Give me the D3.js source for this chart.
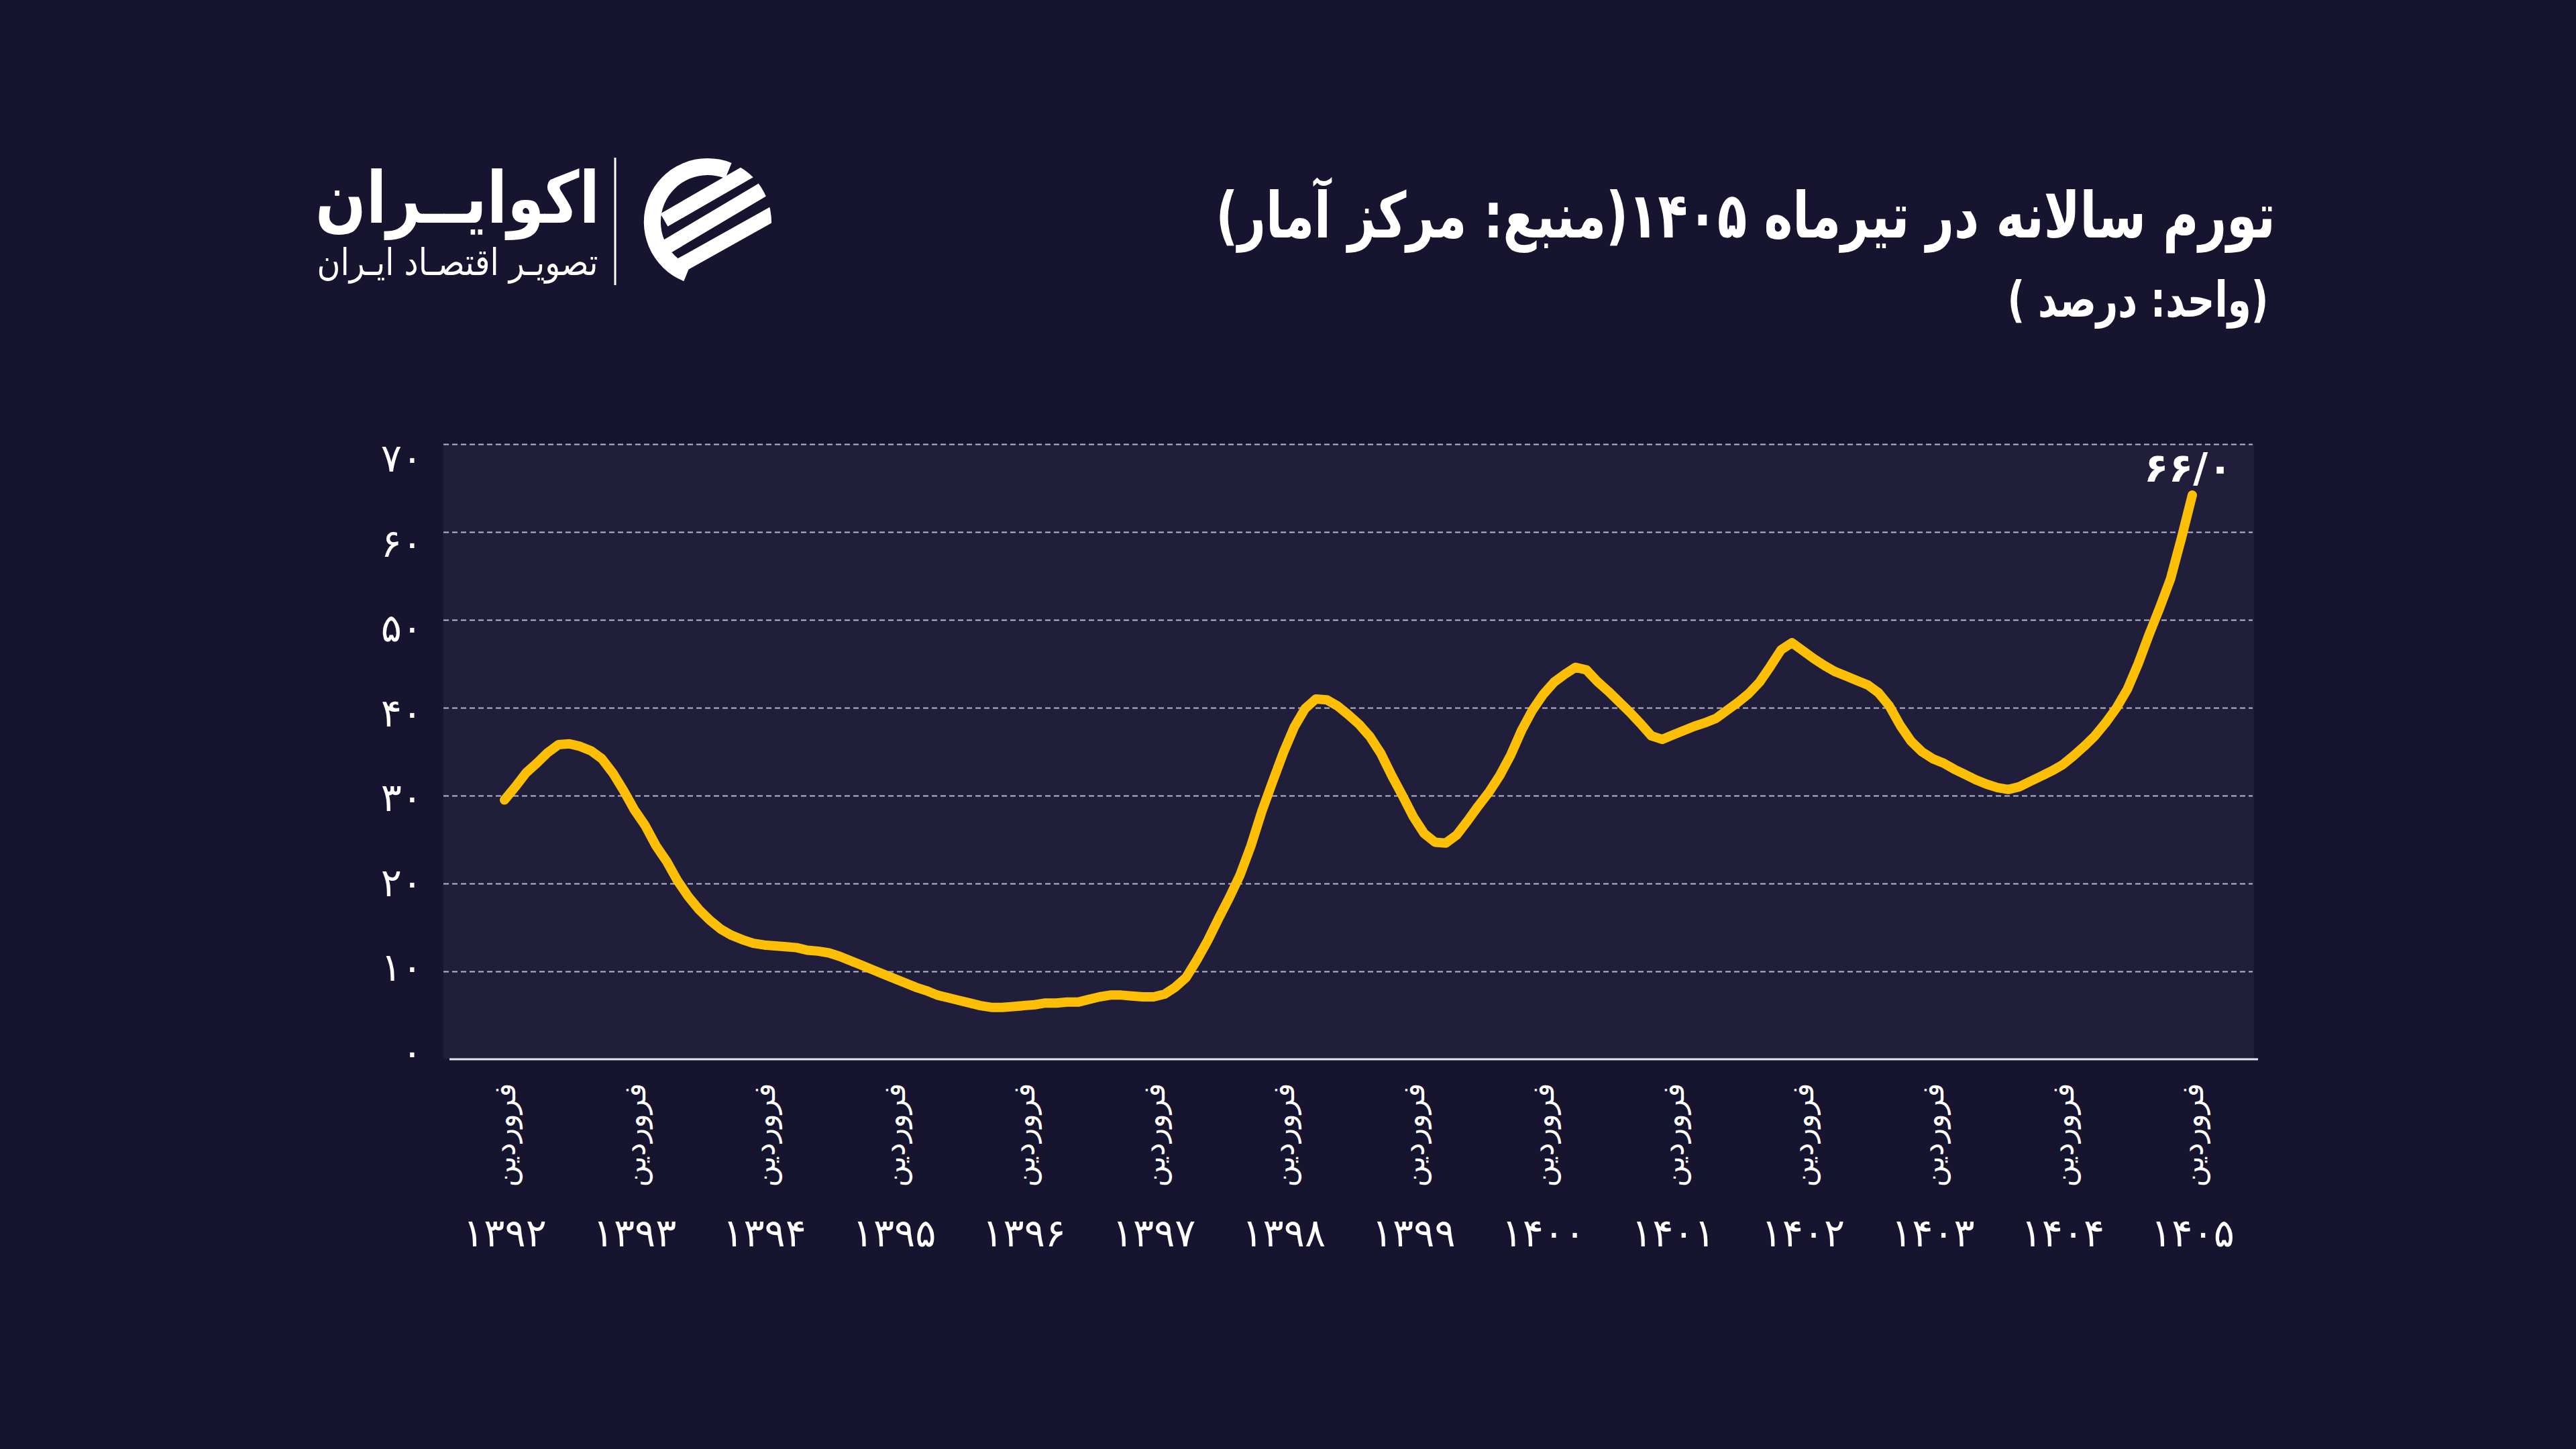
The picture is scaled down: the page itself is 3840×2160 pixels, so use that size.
<!DOCTYPE html>
<html>
<head>
<meta charset="utf-8">
<script src="https://cdn.jsdelivr.net/npm/d3@7"></script>
<style>
html, body { margin: 0; padding: 0; background: #16142f; }
svg { display: block; }
text { font-family: "DejaVu Sans", sans-serif; fill: #ffffff; }
</style>
</head>
<body>
<div id="chart"></div>
<script>
// tick labels
var years = ["۱۳۹۲", "۱۳۹۳", "۱۳۹۴", "۱۳۹۵", "۱۳۹۶", "۱۳۹۷", "۱۳۹۸",
             "۱۳۹۹", "۱۴۰۰", "۱۴۰۱", "۱۴۰۲", "۱۴۰۳", "۱۴۰۴", "۱۴۰۵"];
var monthName = "فروردین";
var yTicks = [0, 10, 20, 30, 40, 50, 60, 70];

// annual inflation, one value per month
var inflation = [
  29.5, 31.0, 32.6, 33.7, 34.9, 35.8, 35.9, 35.6, 35.1, 34.2, 32.6, 30.6,
  28.4, 26.6, 24.3, 22.5, 20.3, 18.5, 17.0, 15.8, 14.8, 14.1, 13.6, 13.2,
  13.0, 12.9, 12.8, 12.7, 12.4, 12.3, 12.1, 11.7, 11.2, 10.7, 10.2, 9.7,
  9.2, 8.7, 8.2, 7.8, 7.3, 7.0, 6.7, 6.4, 6.1, 5.9, 5.9, 6.0,
  6.1, 6.2, 6.4, 6.4, 6.5, 6.5, 6.8, 7.1, 7.3, 7.3, 7.2, 7.1,
  7.1, 7.4, 8.2, 9.3, 11.3, 13.5, 16.0, 18.4, 21.0, 24.3, 28.2, 31.6,
  34.9, 37.8, 39.9, 41.0, 40.9, 40.2, 39.2, 38.1, 36.7, 34.8, 32.3, 30.0,
  27.6, 25.7, 24.7, 24.6, 25.5, 27.1, 28.8, 30.4, 32.3, 34.6, 37.4, 39.7,
  41.5, 42.9, 43.8, 44.6, 44.3, 43.0, 41.9, 40.7, 39.5, 38.2, 36.8, 36.4,
  36.9, 37.4, 37.9, 38.3, 38.8, 39.7, 40.6, 41.6, 42.9, 44.7, 46.6, 47.4,
  46.5, 45.6, 44.8, 44.1, 43.6, 43.1, 42.6, 41.7, 40.2, 38.0, 36.2, 35.0,
  34.2, 33.7, 33.0, 32.4, 31.8, 31.3, 30.9, 30.7, 31.0, 31.6, 32.2, 32.8,
  33.5, 34.5, 35.6, 36.8, 38.3, 40.0, 42.1, 45.0, 48.3, 51.4, 54.7, 59.3,
  64.2
];
var lastLabel = "۶۶/۰";

var titleText = "تورم سالانه در تیرماه ۱۴۰۵(منبع: مرکز آمار)";
var unitText = "(واحد: درصد )";
var brandText = "اکوایــران";
var brandSub = "تصویـر اقتصـاد ایـران";

var W = 3840, H = 2160;
var plot = {left: 661, right: 3360, top: 662, bottom: 1579};

function fa(n) {
  return String(n).replace(/\d/g, function(d) { return "۰۱۲۳۴۵۶۷۸۹"[d]; });
}

// scale font so the text fills a given width, centred on cx
function fitText(sel, cx, width) {
  var w = sel.node().getComputedTextLength();
  var fs = parseFloat(sel.attr("font-size"));
  sel.attr("font-size", fs * width / w).attr("x", cx);
}

// stretch text vertically around its baseline (the original face is narrow and tall)
function stretchY(sel, k) {
  var b = +sel.attr("y");
  sel.attr("transform", "translate(0," + b + ") scale(1," + k + ") translate(0," + (-b) + ")");
}

var svg = d3.select("#chart").append("svg")
  .attr("width", W).attr("height", H);

svg.append("rect").attr("width", W).attr("height", H).attr("fill", "#16142f");

// plot background
svg.append("rect")
  .attr("x", plot.left).attr("y", plot.top)
  .attr("width", plot.right - plot.left)
  .attr("height", plot.bottom - plot.top)
  .attr("fill", "#201e3b");

var x = d3.scaleLinear()
  .domain([0, inflation.length - 1])
  .range([752, 3268]);

var y = d3.scaleLinear()
  .domain([0, 70])
  .range([plot.bottom, plot.top]);

// label positions on the y axis sit on a slightly tighter spacing
var yLab = d3.scaleLinear()
  .domain([0, 70])
  .range([1570, 684]);

// grid lines
svg.append("g")
  .attr("transform", "translate(" + plot.left + ",0)")
  .call(d3.axisLeft(y).tickValues(yTicks.slice(1)).tickSize(-(plot.right - plot.left - 2)).tickFormat(""))
  .call(function(g) { g.select(".domain").remove(); })
  .selectAll("line")
  .attr("stroke", "#b9b6cf")
  .attr("stroke-width", 2)
  .attr("stroke-dasharray", "8,5");

// y labels
svg.append("g")
  .attr("transform", "translate(630,0)")
  .call(d3.axisLeft(yLab).tickValues(yTicks).tickSize(0).tickPadding(0).tickFormat(fa))
  .call(function(g) { g.select(".domain").remove(); })
  .selectAll("text")
  .attr("font-size", 58)
  .attr("fill", "#ffffff")
  .style("font-family", "DejaVu Sans");

// x axis line
svg.append("line")
  .attr("x1", 670).attr("x2", 3366)
  .attr("y1", plot.bottom).attr("y2", plot.bottom)
  .attr("stroke", "#e6e6ee")
  .attr("stroke-width", 3);

// x ticks: month name rotated + year below
var tickIdx = years.map(function(d, i) { return i * 12; });
var xAxis = svg.append("g")
  .attr("transform", "translate(0," + plot.bottom + ")")
  .call(d3.axisBottom(x).tickValues(tickIdx).tickSize(0).tickFormat(""));
xAxis.select(".domain").remove();

var ticks = xAxis.selectAll(".tick");
ticks.append("text")
  .attr("class", "month")
  .attr("transform", "translate(0,113) rotate(-90)")
  .attr("text-anchor", "middle")
  .attr("dy", "0.35em")
  .attr("font-size", 40)
  .style("font-family", "DejaVu Sans")
  .attr("fill", "#ffffff")
  .text(monthName);

var m0 = xAxis.select(".month").node().getComputedTextLength();
xAxis.selectAll(".month").attr("font-size", 40 * 155 / m0);

ticks.append("text")
  .attr("y", 279)
  .attr("text-anchor", "middle")
  .attr("font-size", 58)
  .style("font-family", "DejaVu Sans")
  .attr("fill", "#ffffff")
  .text(function(d, i) { return years[i]; });

// inflation line
var line = d3.line()
  .x(function(d, i) { return x(i); })
  .y(function(d) { return y(d); });

svg.append("path")
  .datum(inflation)
  .attr("d", line)
  .attr("fill", "none")
  .attr("stroke", "#fcbf06")
  .attr("stroke-width", 14)
  .attr("stroke-linejoin", "round")
  .attr("stroke-linecap", "round");

// last value label
var last = inflation.length - 1;
svg.append("text")
  .attr("x", x(last) - 6)
  .attr("y", y(inflation[last]) - 20)
  .attr("text-anchor", "middle")
  .attr("font-size", 60)
  .attr("font-weight", "bold")
  .text(lastLabel);

// title + unit
var title = svg.append("text")
  .attr("direction", "rtl")
  .attr("text-anchor", "middle")
  .attr("y", 354)
  .attr("font-size", 90)
  .attr("font-weight", "bold")
  .text(titleText);
fitText(title, 2602, 1580);
stretchY(title, 1.3);

var unit = svg.append("text")
  .attr("direction", "rtl")
  .attr("text-anchor", "middle")
  .attr("y", 472)
  .attr("font-size", 60)
  .attr("font-weight", "bold")
  .text(unitText);
fitText(unit, 3187, 389);
stretchY(unit, 1.3);

// logo
var brand = svg.append("text")
  .attr("direction", "rtl")
  .attr("text-anchor", "middle")
  .attr("y", 332)
  .attr("font-size", 100)
  .attr("font-weight", "bold")
  .text(brandText);
fitText(brand, 682, 424);
stretchY(brand, 1.2);

var sub = svg.append("text")
  .attr("direction", "rtl")
  .attr("text-anchor", "middle")
  .attr("y", 410)
  .attr("font-size", 44)
  .text(brandSub);
fitText(sub, 682, 419);
stretchY(sub, 1.15);

svg.append("line")
  .attr("x1", 917).attr("x2", 917)
  .attr("y1", 235).attr("y2", 425)
  .attr("stroke", "#ffffff")
  .attr("stroke-width", 3);

var icon = svg.append("g").attr("transform", "translate(1055,331)");
svg.append("clipPath").attr("id", "iconClip")
  .append("circle").attr("cx", 1055).attr("cy", 331).attr("r", 95);

icon.append("path")
  .attr("d", d3.arc()({innerRadius: 70, outerRadius: 95,
    startAngle: 202 * Math.PI / 180, endAngle: 382 * Math.PI / 180}))
  .attr("fill", "#ffffff");

var stripes = svg.append("g").attr("clip-path", "url(#iconClip)")
  .append("g").attr("transform", "translate(1055,331)");
[[-65, -3, 100, -98], [-65, 39, 100, -59], [-93, 94, 100, -14]].forEach(function(s) {
  stripes.append("line")
    .attr("x1", s[0]).attr("y1", s[1]).attr("x2", s[2]).attr("y2", s[3])
    .attr("stroke", "#ffffff")
    .attr("stroke-width", 22);
});
</script>
</body>
</html>
